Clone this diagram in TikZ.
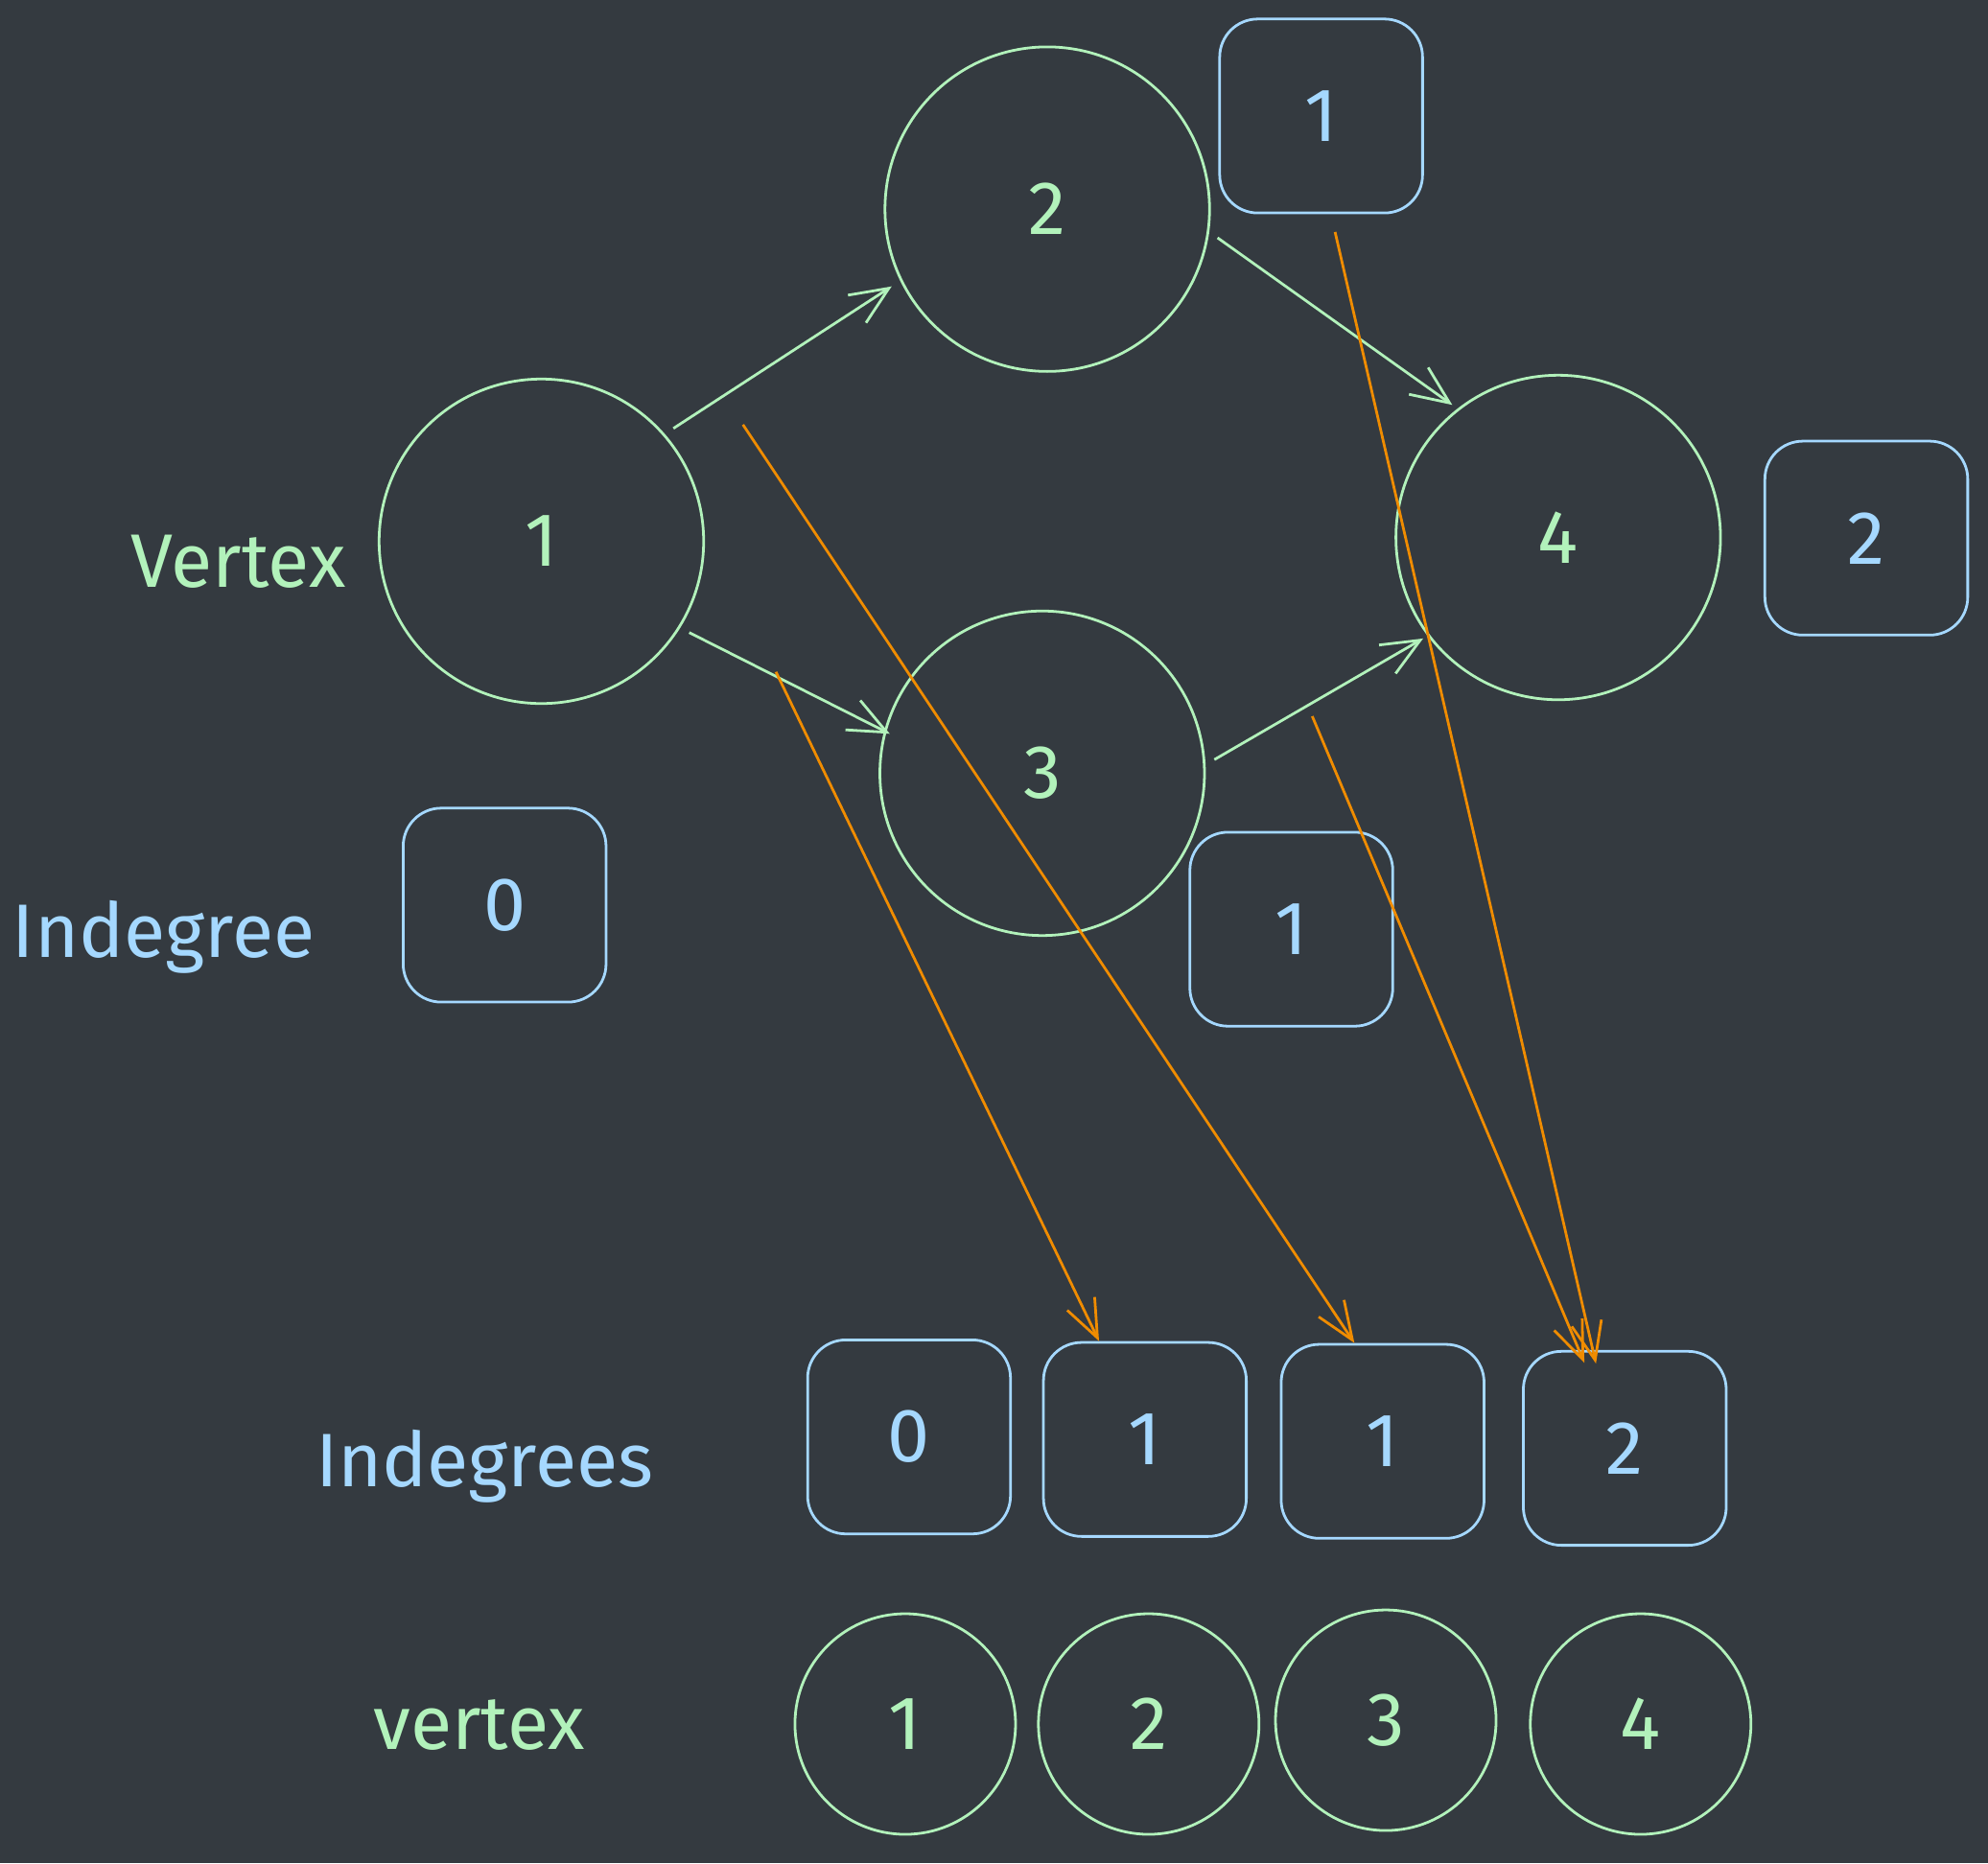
\documentclass[tikz,border=0pt]{standalone}
\usepackage{fontspec}
\setmainfont{Fira Sans}
\usetikzlibrary{arrows.meta}
\definecolor{bgcolor}{HTML}{343A40}
\definecolor{vgreen}{HTML}{B2F2BB}
\definecolor{iblue}{HTML}{A5D8FF}
\definecolor{lorange}{HTML}{F08C00}
\tikzstyle{value} = [font=\fontsize{17}{20}\selectfont]
\tikzstyle{sidelabel} = [font=\fontsize{17}{20}\selectfont,anchor=base]
\tikzstyle{vertex}=[circle,draw=vgreen,line width=0.6pt,text=vgreen,value,inner sep=0pt]
\tikzstyle{bigvertex}=[vertex,minimum size=2.56cm]
\tikzstyle{smallvertex}=[vertex,minimum size=1.74cm]
\tikzstyle{degbox}=[rectangle,rounded corners=0.3cm,draw=iblue,text=iblue,value,line width=0.6pt,minimum width=1.6cm,minimum height=1.53cm]
\tikzstyle{arrowdecorate}=[-{Straight Barb[length=3mm,width=2.6mm]},vgreen,line width=0.6pt,shorten <=0.08cm]
\tikzstyle{orangearrow}=[-{Straight Barb[length=3mm,width=2.4mm]},lorange,line width=0.6pt]

\begin{document}
\begin{tikzpicture}
      \fill[bgcolor] (0,0) rectangle (15.68,-14.70);
      \useasboundingbox (0,0) rectangle (15.68,-14.70);
      %nodes
      \foreach \nodename/\x/\y/\value in {
        v1/4.27/-4.27/1,
        v2/8.26/-1.65/2,
        v3/8.22/-6.10/3,
        v4/12.29/-4.24/4}
      {
        \node[bigvertex] (\nodename) at (\x,\y) {\value};
      };
      \foreach \nodename/\x/\y/\value in {
        d1/3.98/-7.14/0,
        d2/10.42/-0.915/1,
        d3/10.185/-7.33/1,
        d4/14.72/-4.245/2,
        id1/7.17/-11.335/0,
        id2/9.03/-11.355/1,
        id3/10.905/-11.37/1,
        id4/12.815/-11.425/2}
      {
        \node[degbox] (\nodename) at (\x,\y) {\value};
      };
      \foreach \nodename/\x/\y/\value in {
        u1/7.14/-13.60/1,
        u2/9.06/-13.60/2,
        u3/10.93/-13.57/3,
        u4/12.94/-13.60/4}
      {
        \node[smallvertex] (\nodename) at (\x,\y) {\value};
      };
      %labels
      \foreach \nodename/\x/\y/\word/\clr in {
        vlabel/1.88/-4.63/Vertex/vgreen,
        ilabel/1.29/-7.55/Indegree/iblue,
        islabel/3.82/-11.73/Indegrees/iblue,
        ulabel/3.78/-13.80/vertex/vgreen}
      {
        \node[sidelabel,text=\clr] (\nodename) at (\x,\y) {\word};
      };
      %edges
      \path
      \foreach \startnode/\endnode/\gap in {v1.41/v2.206/0.08, v1.328/v3.165/-0.05, v2.352/v4.128/0.05, v3.3/v4.217/0.04}
      {
        (\startnode) edge[arrowdecorate,shorten >=\gap cm] (\endnode)
      };
      %counting
      \coordinate (oa) at (6.12,-5.30);
      \coordinate (ob) at (5.86,-3.35);
      \coordinate (oc) at (10.35,-5.65);
      \coordinate (od) at (10.53,-1.83);
      \path
      \foreach \startnode/\endnode/\extend in {oa/id2.115/0, ob/id3.106/0, oc/id4.115/0.11, od/id4.108/0.11}
      {
        (\startnode) edge[orangearrow,shorten >=-\extend cm] (\endnode)
      };
\end{tikzpicture}
\end{document}
